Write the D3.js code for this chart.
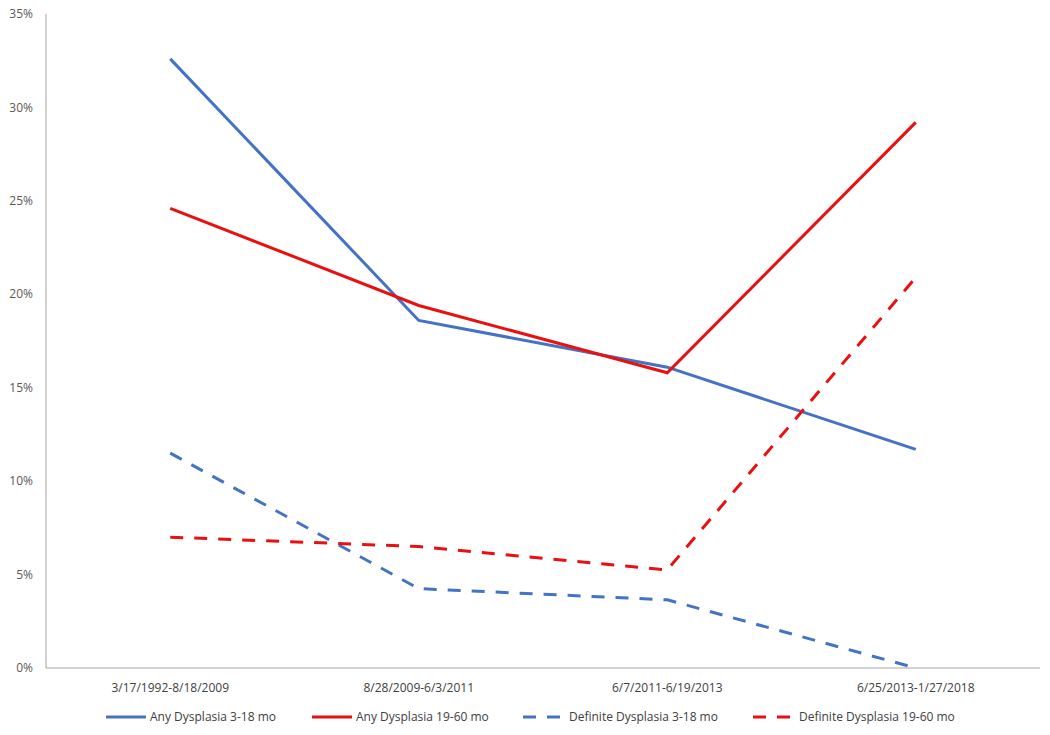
<!DOCTYPE html>
<html><head><meta charset="utf-8">
<script src="https://cdn.jsdelivr.net/npm/d3@7"></script>
<style>body{margin:0;background:#fff;} text{font-family:"Open Sans","Liberation Sans",sans-serif;}</style>
</head><body><svg id="c" width="1050" height="735"></svg>
<script>
const categories = ["3/17/1992-8/18/2009","8/28/2009-6/3/2011","6/7/2011-6/19/2013","6/25/2013-1/27/2018"];
const anyDys3_18 = [32.6, 18.6, 16.1, 11.7];
const anyDys19_60 = [24.6, 19.4, 15.8, 29.2];
const defDys3_18 = [11.5, 4.25, 3.65, 0.0];
const defDys19_60 = [7.0, 6.5, 5.25, 20.9];
const yTicks = [0,5,10,15,20,25,30,35];
const seriesNames = ["Any Dysplasia 3-18 mo","Any Dysplasia 19-60 mo","Definite Dysplasia 3-18 mo","Definite Dysplasia 19-60 mo"];

const series = [
  {name: seriesNames[0], values: anyDys3_18, color:"#4472C4", dash:null},
  {name: seriesNames[1], values: anyDys19_60, color:"#E81010", dash:null},
  {name: seriesNames[2], values: defDys3_18, color:"#4472C4", dash:"13,11"},
  {name: seriesNames[3], values: defDys19_60, color:"#E81010", dash:"13,11"}
];

const svg = d3.select("#c");
const mLeft = 46, mRight = 1040, mTop = 14, mBottom = 668;
const x = d3.scalePoint().domain(categories).range([mLeft, mRight]).padding(0.5);
const y = d3.scaleLinear().domain([0,35]).range([mBottom, mTop]);

svg.append("line").attr("x1", mLeft).attr("x2", mLeft).attr("y1", mTop).attr("y2", mBottom).attr("stroke","#a6a6a6").attr("stroke-width",1);
svg.append("line").attr("x1", mLeft).attr("x2", mRight).attr("y1", mBottom).attr("y2", mBottom).attr("stroke","#a6a6a6").attr("stroke-width",1);

svg.append("g").selectAll("text").data(yTicks).join("text")
  .attr("x", 33).attr("y", d => y(d)).attr("dy","0.35em").attr("text-anchor","end")
  .attr("font-size",12).attr("fill","#595959").text(d => d + "%");

svg.append("g").selectAll("text").data(categories).join("text")
  .attr("x", d => x(d)).attr("y", 692).attr("text-anchor","middle")
  .attr("font-size",12).attr("fill","#404040").text(d => d);

const line = d3.line().x((d,i) => x(categories[i])).y(d => y(d));
svg.append("g").selectAll("path").data(series).join("path")
  .attr("d", d => line(d.values)).attr("fill","none")
  .attr("stroke", d => d.color).attr("stroke-width",3)
  .attr("stroke-dasharray", d => d.dash);

const legX = [106, 312, 523, 753];
const lg = svg.append("g").selectAll("g").data(series).join("g")
  .attr("transform", (d,i) => `translate(${legX[i]},717)`);
lg.append("line").attr("x1",0).attr("x2", d => d.dash ? 37 : 40).attr("y1",0).attr("y2",0)
  .attr("stroke", d=>d.color).attr("stroke-width",3).attr("stroke-dasharray", d => d.dash ? "13,11" : null);
lg.append("text").attr("x", d => d.dash ? 46 : 44).attr("y",0).attr("dy","0.35em")
  .attr("font-size",12).attr("fill","#404040").text(d=>d.name);
</script></body></html>
